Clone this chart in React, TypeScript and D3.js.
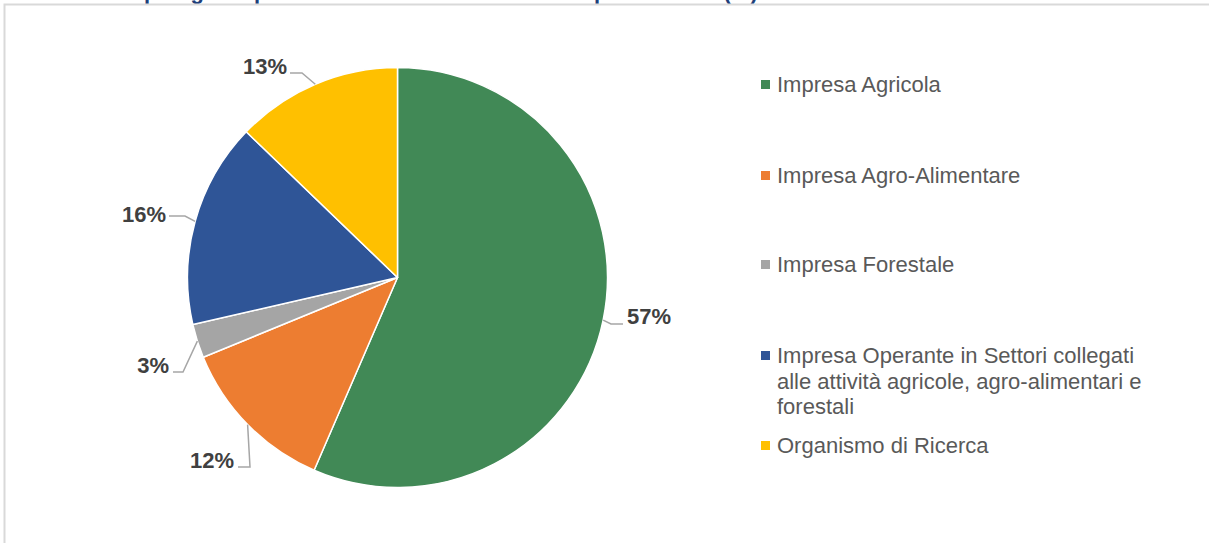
import React from "react";
import * as d3 from "d3";

const categories = [
  "Impresa Agricola",
  "Impresa Agro-Alimentare",
  "Impresa Forestale",
  "Impresa Operante in Settori collegati alle attività agricole, agro-alimentari e forestali",
  "Organismo di Ricerca",
];
const values = [56.5, 12.3, 2.6, 15.8, 12.8];
const labelTexts = ["57%", "12%", "3%", "16%", "13%"];
const colors = ["#418956", "#ED7D31", "#A5A5A5", "#2F5597", "#FFC000"];
const legendLines = [
  ["Impresa Agricola"],
  ["Impresa Agro-Alimentare"],
  ["Impresa Forestale"],
  ["Impresa Operante in Settori collegati", "alle attività agricole, agro-alimentari e", "forestali"],
  ["Organismo di Ricerca"],
];
const title = "Grafico 5 - Tipologia di partner nei GO finanziati: valore percentuale (%)";

// label layout: [elbow dx, elbow dy, end x, text anchor x, baseline y] relative offsets
const labelLayout = [
  { elbow: [611, 324], end: [623, 324], tx: 627, ty: 324, anchor: "start" },
  { elbow: [250, 467], end: [238, 467], tx: 234, ty: 468, anchor: "end" },
  { elbow: [183, 372], end: [173, 372], tx: 169, ty: 373, anchor: "end" },
  { elbow: [185, 216], end: [169, 216], tx: 166, ty: 222, anchor: "end" },
  { elbow: [302, 73], end: [290, 73], tx: 287, ty: 74, anchor: "end" },
];

export default function App() {
  const W = 1209, H = 543;
  const cx = 397.5, cy = 277.5, r = 210;
  const pie = d3.pie<number>().sort(null).value((d) => d);
  const arcs = pie(values);
  const arc = d3.arc<d3.PieArcDatum<number>>().innerRadius(0).outerRadius(r);
  const font = "'Liberation Sans', Arial, sans-serif";

  const legendX = 761;
  const legendBase = [92, 183, 272, 363, 453];

  return (
    <svg width={W} height={H} style={{ position: "absolute", left: 0, top: 0, background: "#fff" }}>
      <text x={10} y={-1} fontFamily={font} fontWeight="bold" fontSize={22} fill="#1F3F7A">{title}</text>
      <rect x={4.5} y={4.5} width={W + 10} height={H + 10} fill="none" stroke="#D9D9D9" strokeWidth={2} />
      <g transform={`translate(${cx},${cy})`}>
        {arcs.map((a, i) => (
          <path key={i} d={arc(a) as string} fill={colors[i]} stroke="#fff" strokeWidth={1.5} strokeLinejoin="round" />
        ))}
      </g>
      {arcs.map((a, i) => {
        const mid = (a.startAngle + a.endAngle) / 2;
        const sx = cx + Math.sin(mid) * r;
        const sy = cy - Math.cos(mid) * r;
        const L = labelLayout[i];
        return (
          <g key={i}>
            <polyline
              points={`${sx},${sy} ${L.elbow[0]},${L.elbow[1]} ${L.end[0]},${L.end[1]}`}
              fill="none"
              stroke="#A6A6A6"
              strokeWidth={1.5}
            />
            <text x={L.tx} y={L.ty} textAnchor={L.anchor as any} fontFamily={font} fontWeight="bold" fontSize={22} fill="#404040">
              {labelTexts[i]}
            </text>
          </g>
        );
      })}
      {categories.map((c, i) => (
        <g key={c}>
          <rect x={legendX} y={legendBase[i] - 12} width={9} height={9} fill={colors[i]} />
          <text x={777} y={legendBase[i]} fontFamily={font} fontSize={22} fill="#595959">
            {legendLines[i].map((ln, j) => (
              <tspan key={j} x={777} y={legendBase[i] + j * 25.5}>{ln}</tspan>
            ))}
          </text>
        </g>
      ))}
    </svg>
  );
}
